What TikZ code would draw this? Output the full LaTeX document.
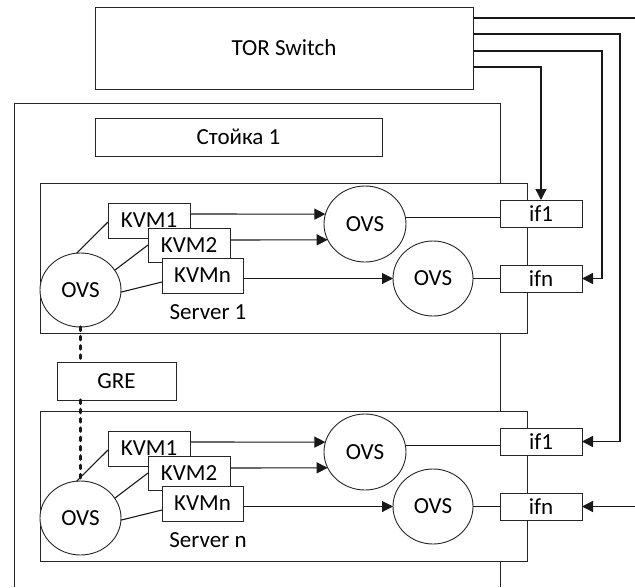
\documentclass[tikz,border=0pt]{standalone}
\usepackage{fontspec}
\setmainfont{Carlito}
\usetikzlibrary{arrows.meta,shapes.geometric}
\begin{document}
\begin{tikzpicture}[x=1pt,y=-1pt,
  txt/.style={font=\fontsize{23}{27}\selectfont},
  box/.style={draw=black!85, line width=0.9pt, fill=white, inner sep=0pt, outer sep=0pt, txt},
  srvbox/.style={draw=black!85, line width=0.9pt, fill=white, inner sep=0pt, outer sep=0pt},
  ovs/.style={draw=black!85, ellipse, line width=0.9pt, fill=white, inner sep=0pt, outer sep=0pt, txt},
  conn/.style={draw=black!90, line width=1.1pt},
  arr/.style={conn, -{Triangle[length=11pt,width=11pt]}},
  thickarr/.style={draw=black!90, line width=1.4pt, -{Triangle[length=11pt,width=11pt]}},
  greline/.style={draw=black!90, line width=3.2pt, line cap=round, dash pattern=on 3.5pt off 5.8pt}
]
\useasboundingbox (0,0) rectangle (635,587);

% TOR switch
\node[box, minimum width=378pt, minimum height=82pt] (tor) at (284,48) {TOR Switch};

% rack
\draw[draw=black!85, line width=0.9pt] (14,587) |- (500,103) -- (500,587);
\node[box, minimum width=287pt, minimum height=38pt] (rack) at (238.5,137) {Стойка 1};

% servers
\foreach \s/\dy/\lab in {1/0/{Server 1},n/228/{Server n}} {
  \node[srvbox, minimum width=487pt, minimum height=150pt] (srv\s) at (283.5,{258+\dy}) {};
  \node[ovs, minimum width=81pt, minimum height=74pt] (ovsL\s) at (80.5,{290+\dy}) {OVS};
  \node[ovs, minimum width=82pt, minimum height=76pt] (ovsA\s) at (365,{224+\dy}) {OVS};
  \node[ovs, minimum width=80pt, minimum height=75pt] (ovsB\s) at (433,{278.5+\dy}) {OVS};
  \node[box, minimum width=82pt, minimum height=35pt] (kvma\s) at (149,{220.5+\dy}) {KVM1};
  \node[box, minimum width=82pt, minimum height=34pt] (kvmb\s) at (189,{245+\dy}) {KVM2};
  \node[box, minimum width=81pt, minimum height=35pt] (kvmc\s) at (202.5,{275.5+\dy}) {KVMn};
  \node[txt, inner sep=0pt] (lab\s) at (208,{312+\dy}) {\lab};
  \node[box, minimum width=82pt, minimum height=27pt] (if1\s) at (541,{213.5+\dy}) {if1};
  \node[box, minimum width=82pt, minimum height=27pt] (ifn\s) at (541,{278.5+\dy}) {ifn};
  % OVS to KVM
  \draw[conn] (ovsL\s.96) -- ([yshift=-1.5pt]kvma\s.west);
  \draw[conn] (ovsL\s.30) -- (kvmb\s.west);
  \draw[conn] (ovsL\s.357) -- ([yshift=-6.5pt]kvmc\s.west);
  % KVM to OVS
  \draw[arr] ([yshift=6.5pt]kvma\s.east) -- (ovsA\s.166);
  \draw[arr] ([yshift=5pt]kvmb\s.east) -- (ovsA\s.203);
  \draw[arr] (kvmc\s.east |- ovsB\s.west) -- (ovsB\s.west);
  % OVS to interfaces
  \draw[conn] (ovsA\s.9) -- (ovsA\s.9 -| if1\s.west);
  \draw[conn] (ovsB\s.east) -- (ifn\s.west);
}

% GRE
\node[box, minimum width=119pt, minimum height=38pt] (gre) at (116.5,381) {GRE};
\draw[greline] (ovsL1.south) -- (ovsL1.south |- gre.north);
\draw[greline] (gre.south -| ovsL1.south) -- (ovsLn.north);

% TOR uplinks
\coordinate (out1) at (636,18);
\coordinate (in5) at (636,506.5);
\draw[draw=black!90, line width=1.4pt] ([yshift=30pt]tor.east) -- (out1);
\draw[thickarr] ([yshift=14pt]tor.east) -| ([xshift=38pt]if1n.east) -- (if1n.east);
\draw[thickarr] ([yshift=-3pt]tor.east) -| ([xshift=20pt]ifn1.east) -- (ifn1.east);
\draw[thickarr] ([yshift=-19pt]tor.east) -| (if11.north);
\draw[thickarr] (in5) -- (ifnn.east);
\end{tikzpicture}
\end{document}
